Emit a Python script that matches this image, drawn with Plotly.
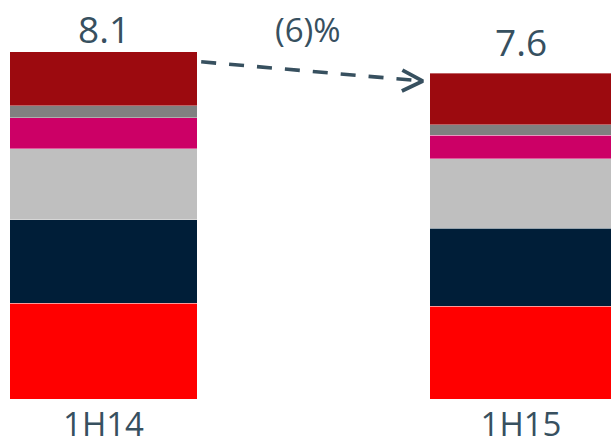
import plotly.graph_objects as go

# Half-year periods and totals
periods = ["1H14", "1H15"]
totals = [8.1, 7.6]
change_label = "(6)%"

# Stacked components, listed bottom to top
red_vals = [2.24, 2.16]
navy_vals = [1.94, 1.83]
lightgray_vals = [1.66, 1.62]
magenta_vals = [0.72, 0.54]
gray_vals = [0.28, 0.25]
darkred_vals = [1.26, 1.20]

components = [
    ("Component 1", red_vals, "#FF0000"),
    ("Component 2", navy_vals, "#001E38"),
    ("Component 3", lightgray_vals, "#BFBFBF"),
    ("Component 4", magenta_vals, "#CC0066"),
    ("Component 5", gray_vals, "#808080"),
    ("Component 6", darkred_vals, "#9C0A0F"),
]

TEXT = "#37505F"
FONT = "Open Sans"
W, H = 611, 445
PLOT_H = 399           # pixel height of plotting area
Y_MAX = 9.312          # value at top of plotting area
X_RANGE = [-0.2479, 1.2156]
xs = list(range(len(periods)))
bar_widths = [0.448, 0.436]

fig = go.Figure()
for name, vals, color in components:
    fig.add_trace(go.Bar(
        x=xs, y=vals, name=name, width=bar_widths,
        marker=dict(color=color, line=dict(color="rgba(255,255,255,0.45)", width=0.8)),
        hoverinfo="skip",
    ))

# pixel -> data unit conversions for decorations
px_x = (X_RANGE[1] - X_RANGE[0]) / W
px_y = Y_MAX / PLOT_H

# total labels above each bar
label_shift = [-4, 4]
annotations = []
for x, t, s in zip(xs, totals, label_shift):
    annotations.append(dict(
        x=x, y=t, text=f"{t:.1f}", showarrow=False, yanchor="bottom",
        yshift=s, font=dict(family=FONT, size=37, color=TEXT),
    ))

# dashed change arrow between bar tops
x0 = xs[0] + bar_widths[0] / 2 + 0.01
y0 = totals[0] - 0.23
x1 = xs[1] - bar_widths[1] / 2 - 0.017
y1 = totals[1] - 0.18
fig.add_trace(go.Scatter(
    x=[x0, x1], y=[y0, y1], mode="lines",
    line=dict(color=TEXT, width=3.6, dash="15px,13px"),
    hoverinfo="skip", showlegend=False,
))
# chevron head
fig.add_trace(go.Scatter(
    x=[x1 - 20.5 * px_x, x1, x1 - 21 * px_x],
    y=[y1 + 11 * px_y, y1, y1 - 10 * px_y],
    mode="lines", line=dict(color=TEXT, width=3.8),
    hoverinfo="skip", showlegend=False,
))
annotations.append(dict(
    x=(x0 + x1) / 2 - 4 * px_x, y=(y0 + y1) / 2, text=change_label, showarrow=False,
    yanchor="bottom", yshift=17, font=dict(family=FONT, size=33, color=TEXT),
))

fig.update_layout(
    width=W, height=H, barmode="stack", showlegend=False,
    margin=dict(l=0, r=0, t=0, b=H - PLOT_H, pad=0),
    paper_bgcolor="white", plot_bgcolor="white",
    xaxis=dict(range=X_RANGE, tickvals=xs, ticktext=periods, showgrid=False,
               zeroline=False, showline=False, ticks="", ticklabelstandoff=3,
               automargin=False,
               tickfont=dict(family=FONT, size=33, color=TEXT)),
    yaxis=dict(range=[0, Y_MAX], visible=False, automargin=False),
    annotations=annotations,
)
fig.write_html("out.html", config={"displayModeBar": False})
